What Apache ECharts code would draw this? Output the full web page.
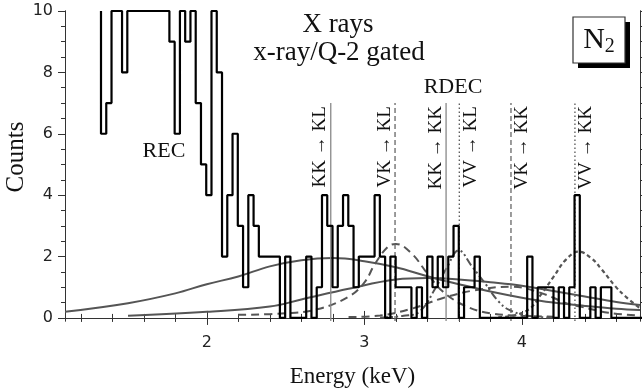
<!DOCTYPE html>
<html>
<head>
<meta charset="utf-8">
<script src="https://cdn.jsdelivr.net/npm/echarts@6/dist/echarts.min.js"></script>
<style>
  html, body { margin: 0; padding: 0; background: #fff; }
  #chart { width: 642px; height: 391px; }
</style>
</head>
<body>
<div id="chart"></div>
<script>
// histogram: bin start (keV), bin width (keV), counts per bin (10 = off scale)
const binStart = 1.3285
const binWidth = 0.0334
const counts = [
  6, 7, 10, 10, 8, 10, 10, 10, 10, 10, 10, 10, 10, 9, 6, 10, 9, 10, 7, 5,
  4, 10, 8, 2, 4, 6, 3, 1, 4, 3, 2, 2, 2, 2, 0, 2, 0, 0, 0, 2,
  0, 1, 4, 3, 1, 3, 4, 3, 1, 2, 2, 2, 4, 2, 0, 2, 1, 1, 1, 0,
  1, 0, 2, 1, 2, 1, 2, 3, 0, 1, 1, 2, 0, 0, 0, 0, 0, 0, 0, 0,
  0, 2, 0, 1, 1, 1, 0, 1, 0, 1, 4, 0, 0, 1, 0, 1, 1, 0, 0, 0,
  0, 0, 0, 0
]

// fitted line shapes: [energy, counts]
const recBroad = [[1.1, 0.2], [1.5, 0.48], [1.8, 0.8], [2.0, 1.1], [2.2, 1.35], [2.4, 1.68], [2.6, 1.88],
  [2.8, 1.95], [3.0, 1.85], [3.2, 1.65], [3.4, 1.36], [3.6, 1.1], [3.8, 0.86], [4.0, 0.66], [4.2, 0.5],
  [4.4, 0.39], [4.6, 0.3], [4.75, 0.26]]
const recNarrow = [[1.5, 0.07], [2.0, 0.2], [2.4, 0.37], [2.6, 0.6], [2.9, 0.95], [3.2, 1.25], [3.4, 1.3],
  [3.6, 1.25], [3.8, 1.16], [4.0, 1.05], [4.2, 0.88], [4.4, 0.7], [4.6, 0.52], [4.75, 0.42]]
const vkKl = [[2.2, 0.1], [2.5, 0.15], [2.7, 0.28], [2.9, 0.69], [3.0, 1.15], [3.07, 1.78], [3.15, 2.32],
  [3.2, 2.41], [3.3, 2.1], [3.4, 1.45], [3.5, 0.85], [3.65, 0.37], [3.8, 0.15], [4.0, 0.07], [4.2, 0.04]]
const vvKl = [[3.1, 0.01], [3.25, 0.07], [3.35, 0.2], [3.455, 1.0], [3.52, 1.6], [3.6, 2.2], [3.68, 1.7],
  [3.77, 1.1], [3.85, 0.55], [3.92, 0.26], [4.05, 0.06], [4.2, 0.01]]
const vkKk = [[2.9, 0.03], [3.1, 0.08], [3.3, 0.3], [3.5, 0.65], [3.7, 0.9], [3.93, 1.02], [4.1, 0.85],
  [4.3, 0.45], [4.37, 0.37], [4.55, 0.17], [4.75, 0.08]]
const vvKk = [[3.85, 0.02], [3.95, 0.08], [4.05, 0.3], [4.12, 0.75], [4.2, 1.33], [4.28, 1.9], [4.36, 2.16],
  [4.44, 1.95], [4.51, 1.56], [4.59, 1.05], [4.66, 0.69], [4.75, 0.32]]

// transition markers
const transitions = ['KK → KL', 'VK → KL', 'KK → KK', 'VV → KL', 'VK → KK', 'VV → KK']
const transitionEnergies = [2.787, 3.195, 3.519, 3.603, 3.931, 4.337]

// tick values
const xMajor = [2, 3, 4]
const xMinor = [1.2, 1.4, 1.6, 1.8, 2.2, 2.4, 2.6, 2.8, 3.2, 3.4, 3.6, 3.8, 4.2, 4.4, 4.6]
const yMajor = [0, 2, 4, 6, 8, 10]
const yMinor = [0.5, 1, 1.5, 2.5, 3, 3.5, 4.5, 5, 5.5, 6.5, 7, 7.5, 8.5, 9, 9.5]

const serif = 'Liberation Serif'
const sans = 'DejaVu Sans'
const frameColor = '#333'
const curveColor = '#555'

// histogram outline points, starting from the top edge
const histPoints = [[binStart, 10]]
counts.forEach((c, i) => {
  const left = binStart + i * binWidth
  histPoints.push([left, c], [left + binWidth, c])
})

const lineStyles = ['solid', [5, 3], 'solid', [1.5, 2.5], [5, 3], [1.5, 2.5]]
const lineColors = ['#888', '#666', '#888', '#555', '#666', '#555']
const labelLeft = [true, true, true, false, false, false]

const chart = echarts.init(document.getElementById('chart'), null, { renderer: 'canvas' })

function xAxisDef(position, ticks, len, labels) {
  return {
    type: 'value', position: position, min: 1.1, max: 4.75,
    axisLine: { show: true, lineStyle: { color: frameColor, width: 1 } },
    axisTick: { show: true, customValues: ticks, length: len, lineStyle: { color: frameColor } },
    axisLabel: labels ? { customValues: ticks, fontFamily: sans, fontSize: 16, color: '#222', margin: 14 } : { show: false },
    splitLine: { show: false }
  }
}
function yAxisDef(position, ticks, len, labels) {
  return {
    type: 'value', position: position, min: -0.1, max: 10,
    axisLine: { show: true, lineStyle: { color: frameColor, width: 1 } },
    axisTick: { show: true, customValues: ticks, length: len, lineStyle: { color: frameColor } },
    axisLabel: labels ? { customValues: ticks, fontFamily: sans, fontSize: 16, color: '#222', margin: 12 } : { show: false },
    splitLine: { show: false }
  }
}

const xAxes = [
  xAxisDef('bottom', xMajor, 7, true),
  xAxisDef('bottom', xMinor, 4, false),
  xAxisDef('top', xMajor, 7, false),
  xAxisDef('top', xMinor, 4, false)
]
xAxes[0].name = 'Energy (keV)'
xAxes[0].nameLocation = 'middle'
xAxes[0].nameGap = 44
xAxes[0].nameTextStyle = { fontFamily: serif, fontSize: 23, color: '#111' }

const yAxes = [
  yAxisDef('left', yMajor, 7, true),
  yAxisDef('left', yMinor, 4, false),
  yAxisDef('right', yMajor, 7, false),
  yAxisDef('right', yMinor, 4, false)
]

function curve(data, type, width) {
  return {
    type: 'line', data: data, smooth: 0.4, showSymbol: false, silent: true,
    lineStyle: { color: curveColor, width: width || 2, type: type }
  }
}

const series = [
  curve(recBroad, 'solid', 2),
  curve(recNarrow, 'solid', 2),
  curve(vkKl, [8, 5], 2),
  curve(vvKl, [8, 3, 2, 3, 2, 3], 2),
  curve(vkKk, [8, 5], 2),
  curve(vvKk, [4, 3], 2.2)
]

transitionEnergies.forEach((e, i) => {
  series.push({
    type: 'line', data: [[e, -0.1], [e, 7.0]], showSymbol: false, silent: true,
    lineStyle: { color: lineColors[i], width: 1.3, type: lineStyles[i] }
  })
})

// rotated transition labels, anchored at the top end of each marker line
series.push({
  type: 'custom', silent: true,
  data: transitionEnergies.map((e, i) => [e, 6.9, i]),
  renderItem: function (params, api) {
    const i = api.value(2)
    const p = api.coord([api.value(0), api.value(1)])
    const left = labelLeft[i]
    return {
      type: 'text',
      x: p[0] + (left ? -1 : 2), y: p[1],
      rotation: Math.PI / 2,
      style: {
        text: transitions[i], font: '19px "Liberation Serif"', fill: '#111',
        align: 'right', verticalAlign: left ? 'bottom' : 'top'
      }
    }
  }
})

series.push({
  type: 'line', data: histPoints, showSymbol: false, silent: true,
  lineStyle: { color: '#000', width: 2.2 }, z: 5
})

chart.setOption({
  animation: false,
  grid: { left: 65, right: 2, top: 11, bottom: 70, outerBoundsMode: 'none', containLabel: false },
  xAxis: xAxes,
  yAxis: yAxes,
  series: series,
  graphic: [
    { type: 'text', style: { text: 'X rays', font: '27px "Liberation Serif"', fill: '#111', x: 338, y: 11, textAlign: 'center' } },
    { type: 'text', style: { text: 'x-ray/Q-2 gated', font: '27px "Liberation Serif"', fill: '#111', x: 339, y: 39, textAlign: 'center' } },
    { type: 'text', style: { text: 'RDEC', font: '22px "Liberation Serif"', fill: '#111', x: 453, y: 76, textAlign: 'center' } },
    { type: 'text', style: { text: 'REC', font: '22px "Liberation Serif"', fill: '#111', x: 164, y: 140, textAlign: 'center' } },
    {
      type: 'text', x: 16, y: 157, rotation: Math.PI / 2,
      style: { text: 'Counts', font: '25px "Liberation Serif"', fill: '#111', textAlign: 'center', textVerticalAlign: 'middle' }
    },
    { type: 'rect', shape: { x: 578, y: 22, width: 52, height: 46 }, style: { fill: '#000' } },
    { type: 'rect', shape: { x: 573, y: 17, width: 52, height: 46 }, style: { fill: '#fff', stroke: '#333', lineWidth: 1.2 } },
    {
      type: 'text',
      style: {
        x: 599, y: 40, textAlign: 'center', textVerticalAlign: 'middle',
        text: 'N{s|2}', font: '30px "Liberation Serif"', fill: '#111',
        rich: { s: { fontFamily: serif, fontSize: 20, padding: [14, 0, 0, 0] } }
      }
    }
  ]
})
</script>
</body>
</html>
